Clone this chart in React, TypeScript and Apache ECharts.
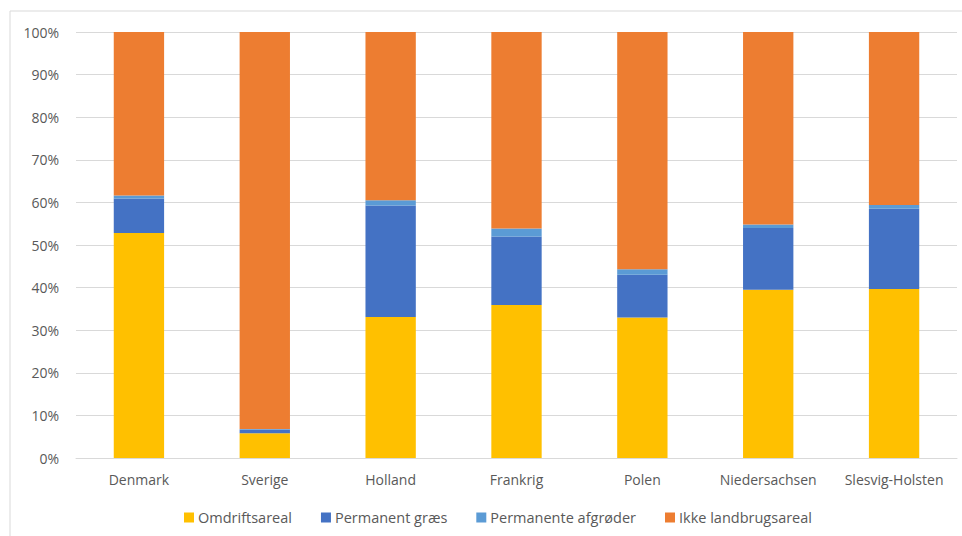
import React, { useEffect, useRef } from "react";
import * as echarts from "echarts";

const categories = ["Denmark", "Sverige", "Holland", "Frankrig", "Polen", "Niedersachsen", "Slesvig-Holsten"];
const omdriftsareal = [52.8, 5.8, 33.1, 35.9, 33.0, 39.5, 39.7];
const permanentGraes = [8.1, 0.9, 26.2, 16.1, 10.0, 14.5, 18.8];
const permanenteAfgroder = [0.7, 0.1, 1.2, 1.9, 1.3, 0.8, 0.9];
const ikkeLandbrugsareal = [38.4, 93.2, 39.5, 46.1, 55.7, 45.2, 40.6];

const seriesDefs = [
  { name: "Omdriftsareal", data: omdriftsareal, color: "#FFC000" },
  { name: "Permanent græs", data: permanentGraes, color: "#4472C4" },
  { name: "Permanente afgrøder", data: permanenteAfgroder, color: "#5B9BD5" },
  { name: "Ikke landbrugsareal", data: ikkeLandbrugsareal, color: "#ED7D31" },
];

export default function App() {
  const ref = useRef<HTMLDivElement>(null);
  useEffect(() => {
    if (!ref.current) return;
    const chart = echarts.init(ref.current, undefined, { renderer: "svg" });
    const font = "'Open Sans', sans-serif";
    chart.setOption({
      animation: false,
      textStyle: { fontFamily: font },
      graphic: [
        { type: "line", shape: { x1: 10, y1: 11, x2: 962, y2: 11 }, style: { stroke: "#d9d9d9", lineWidth: 1 } },
        { type: "line", shape: { x1: 10, y1: 11, x2: 10, y2: 536 }, style: { stroke: "#d9d9d9", lineWidth: 1 } },
      ],
      grid: { left: 76, right: 5, top: 32, bottom: 78 },
      legend: {
        top: 505,
        left: 179,
        itemWidth: 10,
        itemHeight: 10,
        itemGap: 29,
        icon: "rect",
        textStyle: { color: "#595959", fontSize: 14.5, fontFamily: font, padding: [0, 0, 0, -1] },
        data: seriesDefs.map((s) => s.name),
      },
      xAxis: {
        type: "category",
        data: categories,
        axisLine: { lineStyle: { color: "#d9d9d9" } },
        axisTick: { show: false },
        axisLabel: { color: "#595959", fontSize: 14, margin: 14, fontFamily: font, interval: 0 },
      },
      yAxis: {
        type: "value",
        min: 0,
        max: 100,
        interval: 10,
        axisLine: { show: false },
        axisTick: { show: false },
        splitLine: { lineStyle: { color: "#d9d9d9" } },
        axisLabel: { color: "#595959", fontSize: 14, margin: 17, formatter: "{value}%", fontFamily: font },
      },
      series: seriesDefs.map((s) => ({
        name: s.name,
        type: "bar",
        stack: "total",
        barWidth: "40%",
        data: s.data,
        itemStyle: { color: s.color },
      })),
    });
    return () => chart.dispose();
  }, []);
  return <div ref={ref} style={{ width: 962, height: 536, position: "absolute", left: 0, top: 0 }} />;
}
